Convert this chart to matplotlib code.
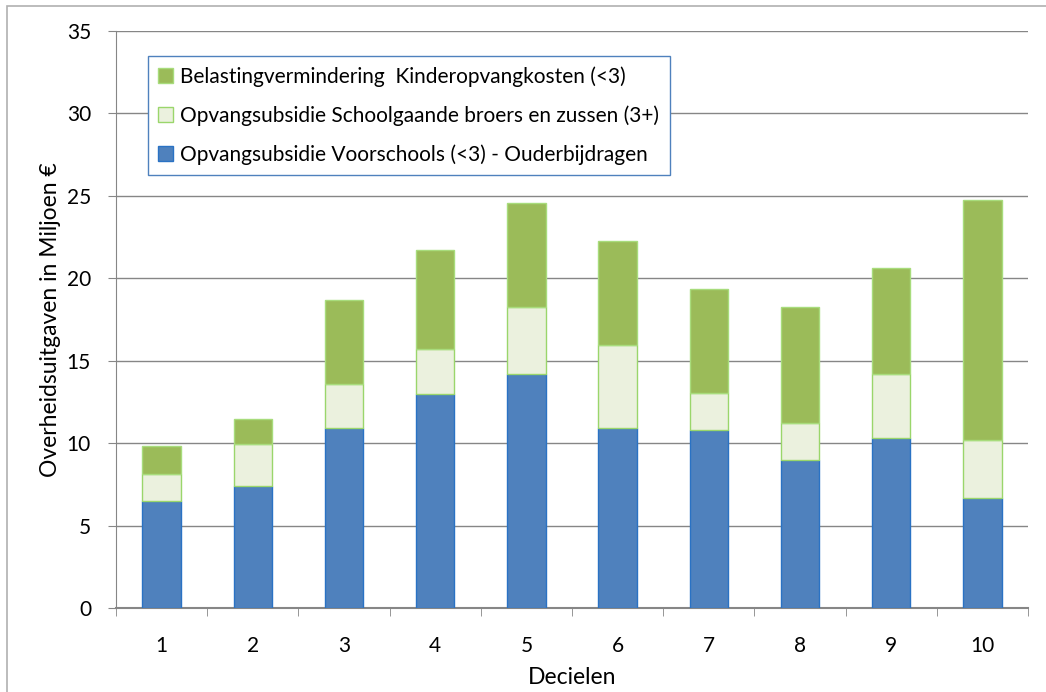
import numpy as np
import matplotlib
matplotlib.use("Agg")
import matplotlib.pyplot as plt
from matplotlib.patches import Rectangle

plt.rcParams['font.family'] = ['Lato', 'DejaVu Sans']

# data
decielen = ['1', '2', '3', '4', '5', '6', '7', '8', '9', '10']
voorschools = [6.5, 7.4, 10.9, 13.0, 14.2, 10.9, 10.8, 9.0, 10.3, 6.65]
schoolgaande = [1.65, 2.55, 2.7, 2.7, 4.05, 5.05, 2.25, 2.2, 3.9, 3.55]
belasting = [1.7, 1.5, 5.1, 6.0, 6.3, 6.3, 6.3, 7.05, 6.4, 14.55]

lbl_blue = 'Opvangsubsidie Voorschools (<3) - Ouderbijdragen'
lbl_light = 'Opvangsubsidie Schoolgaande broers en zussen (3+)'
lbl_green = 'Belastingvermindering  Kinderopvangkosten (<3)'

fig = plt.figure(figsize=(10.46, 6.92), dpi=100)
fig.patches.append(Rectangle((7/1046, -0.1), 1.2, 1.1 - 6/692, transform=fig.transFigure,
                             fill=False, edgecolor='#b0b0b0', linewidth=1.2))
ax = fig.add_axes([116/1046, 84/692, 912/1046, 577/692])

x = np.arange(len(decielen))
w = 0.42
b1 = ax.bar(x, voorschools, w, color='#4f81bd', edgecolor='#2a72c4', linewidth=1, label=lbl_blue, zorder=3)
b2 = ax.bar(x, schoolgaande, w, bottom=voorschools, color='#ebf1de', edgecolor='#9ad66b',
            linewidth=1, label=lbl_light, zorder=3)
bottom2 = np.array(voorschools) + np.array(schoolgaande)
b3 = ax.bar(x, belasting, w, bottom=bottom2, color='#9bbb59', edgecolor='#a8dc7c',
            linewidth=1, label=lbl_green, zorder=3)

ax.set_xlim(-0.5, len(decielen) - 0.5)
ax.set_ylim(0, 35)
ax.set_yticks(np.arange(0, 36, 5))
ax.set_xticks(x)
ax.set_xticklabels(decielen)
ax.set_xticks(np.arange(-0.5, len(decielen), 1), minor=True)
ax.tick_params(axis='x', which='major', length=0, pad=20, labelsize=15)
ax.tick_params(axis='x', which='minor', length=6, color='#868686', direction='out')
ax.tick_params(axis='y', length=6, color='#868686', labelsize=15, pad=12)
ax.grid(axis='y', color='#868686', linewidth=1, zorder=0)

for s in ['top', 'right']:
    ax.spines[s].set_visible(False)
for s in ['left', 'bottom']:
    ax.spines[s].set_color('#868686')
ax.spines['bottom'].set_linewidth(1.5)

ax.set_xlabel('Decielen', fontsize=16.5, labelpad=8)
ax.set_ylabel('Overheidsuitgaven in Miljoen €', fontsize=16.5, labelpad=4)

leg = ax.legend([b3, b2, b1], [lbl_green, lbl_light, lbl_blue], loc='upper left',
                bbox_to_anchor=(32/912, 1 - 25/577), borderaxespad=0, fontsize=15, frameon=True,
                fancybox=False, handlelength=0.7, handleheight=0.7, handletextpad=0.35,
                labelspacing=0.88, borderpad=0.5, framealpha=1)
leg.get_frame().set_edgecolor('#4f81bd')
leg.get_frame().set_linewidth(1)
leg.set_zorder(5)

fig.savefig('out.png', dpi=100)
